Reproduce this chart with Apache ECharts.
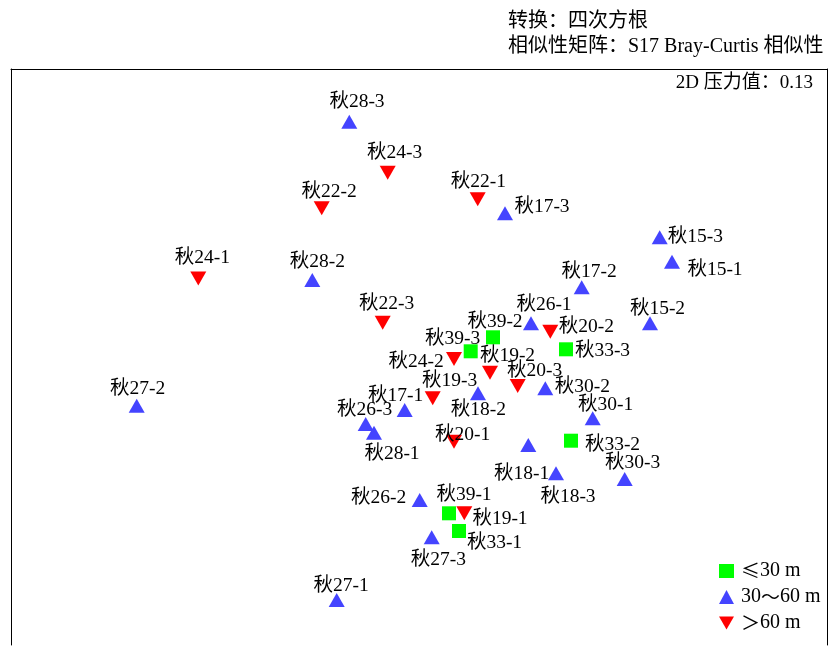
<!DOCTYPE html>
<html>
<head>
<meta charset="utf-8">
<script src="https://cdn.jsdelivr.net/npm/echarts@6/dist/echarts.min.js"></script>
<style>
  html, body { margin: 0; padding: 0; background: #fff; }
  #chart { width: 829px; height: 646px; }
</style>
</head>
<body>
<div id="chart"></div>
<script>
// NMDS ordination of autumn samples (秋), coordinates in plot units (x right, y down)
const shallowNames = ['秋39-2', '秋39-3', '秋33-3', '秋33-2', '秋39-1', '秋33-1'];
const shallowX = [493, 470.7, 566, 571, 449, 459];
const shallowY = [337.3, 351.3, 349.3, 440.7, 513.3, 531];

const middleNames = ['秋28-3', '秋17-3', '秋28-2', '秋15-3', '秋15-1', '秋17-2', '秋15-2',
  '秋30-1', '秋30-3', '秋26-1', '秋18-2', '秋30-2', '秋17-1', '秋26-3', '秋28-1',
  '秋18-1', '秋18-3', '秋27-2', '秋26-2', '秋27-3', '秋27-1'];
const middleX = [349.3, 505, 312.3, 659.7, 672, 581.7, 650,
  592.7, 624.7, 531, 478, 545.3, 404.7, 365.7, 374,
  528.3, 556, 136.7, 419.7, 431.7, 336.7];
const middleY = [121.7, 213.3, 280, 237.3, 261.7, 287.3, 323.3,
  418.3, 479, 323.3, 393.3, 388.3, 410, 424, 432.7,
  445, 473.3, 405.7, 500, 537.3, 600];

const deepNames = ['秋24-3', '秋22-2', '秋22-1', '秋24-1', '秋22-3', '秋20-2',
  '秋24-2', '秋19-2', '秋20-3', '秋19-3', '秋20-1', '秋19-1'];
const deepX = [387.7, 321.7, 477.7, 198.3, 382.7, 550.3, 454, 490, 517.7, 432.7, 454, 464.3];
const deepY = [172.7, 208.3, 199.3, 278.6, 322.7, 331.7, 359, 372.7, 386, 398.3, 441.7, 513.3];

const groupNames = ['≤30 m', '30～60 m', '＞60 m'];

// label placement around each marker (dx, dy)
const labelShift = {
  '秋39-2': [2, -17], '秋39-3': [-18, -14], '秋33-3': [36.5, 0], '秋33-2': [41.5, 2],
  '秋39-1': [15, -20], '秋33-1': [35.5, 9.7],
  '秋28-3': [7.7, -21.7], '秋17-3': [37, -8], '秋28-2': [5, -20], '秋15-3': [35.6, -2.3],
  '秋15-1': [43, 6], '秋17-2': [7.5, -17.3], '秋15-2': [7.5, -16], '秋30-1': [13, -15.7],
  '秋30-3': [8, -18.3], '秋26-1': [13, -20.7], '秋18-2': [0.3, 15], '秋30-2': [37, -3],
  '秋17-1': [-9, -16], '秋26-3': [-1, -15.7], '秋28-1': [18, 19], '秋18-1': [-6.6, 26.7],
  '秋18-3': [12, 21.7], '秋27-2': [1, -19], '秋26-2': [-41, -4], '秋27-3': [6.6, 21],
  '秋27-1': [4.5, -16],
  '秋24-3': [7, -22], '秋22-2': [7.5, -18.3], '秋22-1': [0.6, -19.3], '秋24-1': [4, -22.4],
  '秋22-3': [4, -21], '秋20-2': [36, -6.7], '秋24-2': [-37.8, 1], '秋19-2': [17.5, -18.7],
  '秋20-3': [17, -16.7], '秋19-3': [17, -19], '秋20-1': [8.7, -9], '秋19-1': [35.7, 3.4]
};

const FONT = '"Liberation Serif", "Times New Roman", "Noto Sans CJK SC", serif';
const CJK_FONT = '"Noto Sans CJK SC", "Liberation Serif", serif';
const TEXT_BASELINE_FIX = 2;

function points(names, xs, ys) {
  return names.map((n, i) => {
    const s = labelShift[n] || [0, -18];
    return {
      name: n,
      value: [xs[i], ys[i]],
      label: { offset: [s[0], s[1] + TEXT_BASELINE_FIX] }
    };
  });
}

const baseLabel = {
  show: true,
  position: 'inside',
  formatter: p => p.name,
  color: '#000',
  fontFamily: FONT,
  fontSize: 19.5,
  align: 'center',
  verticalAlign: 'middle'
};

const DOWN_TRI = 'path://M0,0 L16,0 L8,14 Z';
const frameLine = { show: true, onZero: false, lineStyle: { color: '#000', width: 1 } };
const hiddenBits = { axisTick: { show: false }, axisLabel: { show: false }, splitLine: { show: false } };

const chart = echarts.init(document.getElementById('chart'));
chart.setOption({
  animation: false,
  backgroundColor: '#fff',
  title: [
    {
      text: '转换：四次方根\n相似性矩阵：S17 Bray-Curtis 相似性',
      left: 503, top: 4,
      textStyle: { fontFamily: FONT, fontSize: 20, fontWeight: 'normal', color: '#000', lineHeight: 25 }
    },
    {
      text: '2D 压力值：0.13',
      right: 11, top: 69,
      textStyle: { fontFamily: FONT, fontSize: 19, fontWeight: 'normal', color: '#000' }
    }
  ],
  grid: { left: 11, top: 69, width: 816, height: 576, show: false },
  xAxis: Object.assign({
    type: 'value', min: 11, max: 827, position: 'top', axisLine: frameLine
  }, hiddenBits),
  yAxis: [
    Object.assign({
      type: 'value', min: 69, max: 645, inverse: true, position: 'left', axisLine: frameLine
    }, hiddenBits),
    Object.assign({
      type: 'value', min: 69, max: 645, inverse: true, position: 'right', axisLine: frameLine
    }, hiddenBits)
  ],
  legend: {
    orient: 'vertical',
    left: 714, top: 556,
    itemWidth: 15, itemHeight: 14, itemGap: 6,
    formatter: name => /^\d/.test(name) ? '{t|' + name.replace('～', '}{s|～}{t|') + '}'
                                       : '{s|' + name[0] + '}{t|' + name.slice(1) + '}',
    textStyle: {
      fontFamily: FONT, fontSize: 20, color: '#000', padding: [0, 0, 0, 2],
      rich: {
        t: { fontFamily: FONT, fontSize: 20, color: '#000' },
        s: { fontFamily: CJK_FONT, fontSize: 19, color: '#000' }
      }
    },
    data: [
      { name: groupNames[0], icon: 'rect' },
      { name: groupNames[1], icon: 'triangle' },
      { name: groupNames[2], icon: DOWN_TRI }
    ]
  },
  series: [
    {
      name: groupNames[0], type: 'scatter',
      symbol: 'rect', symbolSize: [14, 14],
      itemStyle: { color: '#00ff00', opacity: 1 },
      label: baseLabel,
      data: points(shallowNames, shallowX, shallowY)
    },
    {
      name: groupNames[1], type: 'scatter',
      symbol: 'triangle', symbolSize: [16, 14],
      itemStyle: { color: '#4444ff', opacity: 1 },
      label: baseLabel,
      data: points(middleNames, middleX, middleY)
    },
    {
      name: groupNames[2], type: 'scatter',
      symbol: DOWN_TRI, symbolSize: [16, 14],
      itemStyle: { color: '#ff0000', opacity: 1 },
      label: baseLabel,
      data: points(deepNames, deepX, deepY)
    }
  ]
});
</script>
</body>
</html>
